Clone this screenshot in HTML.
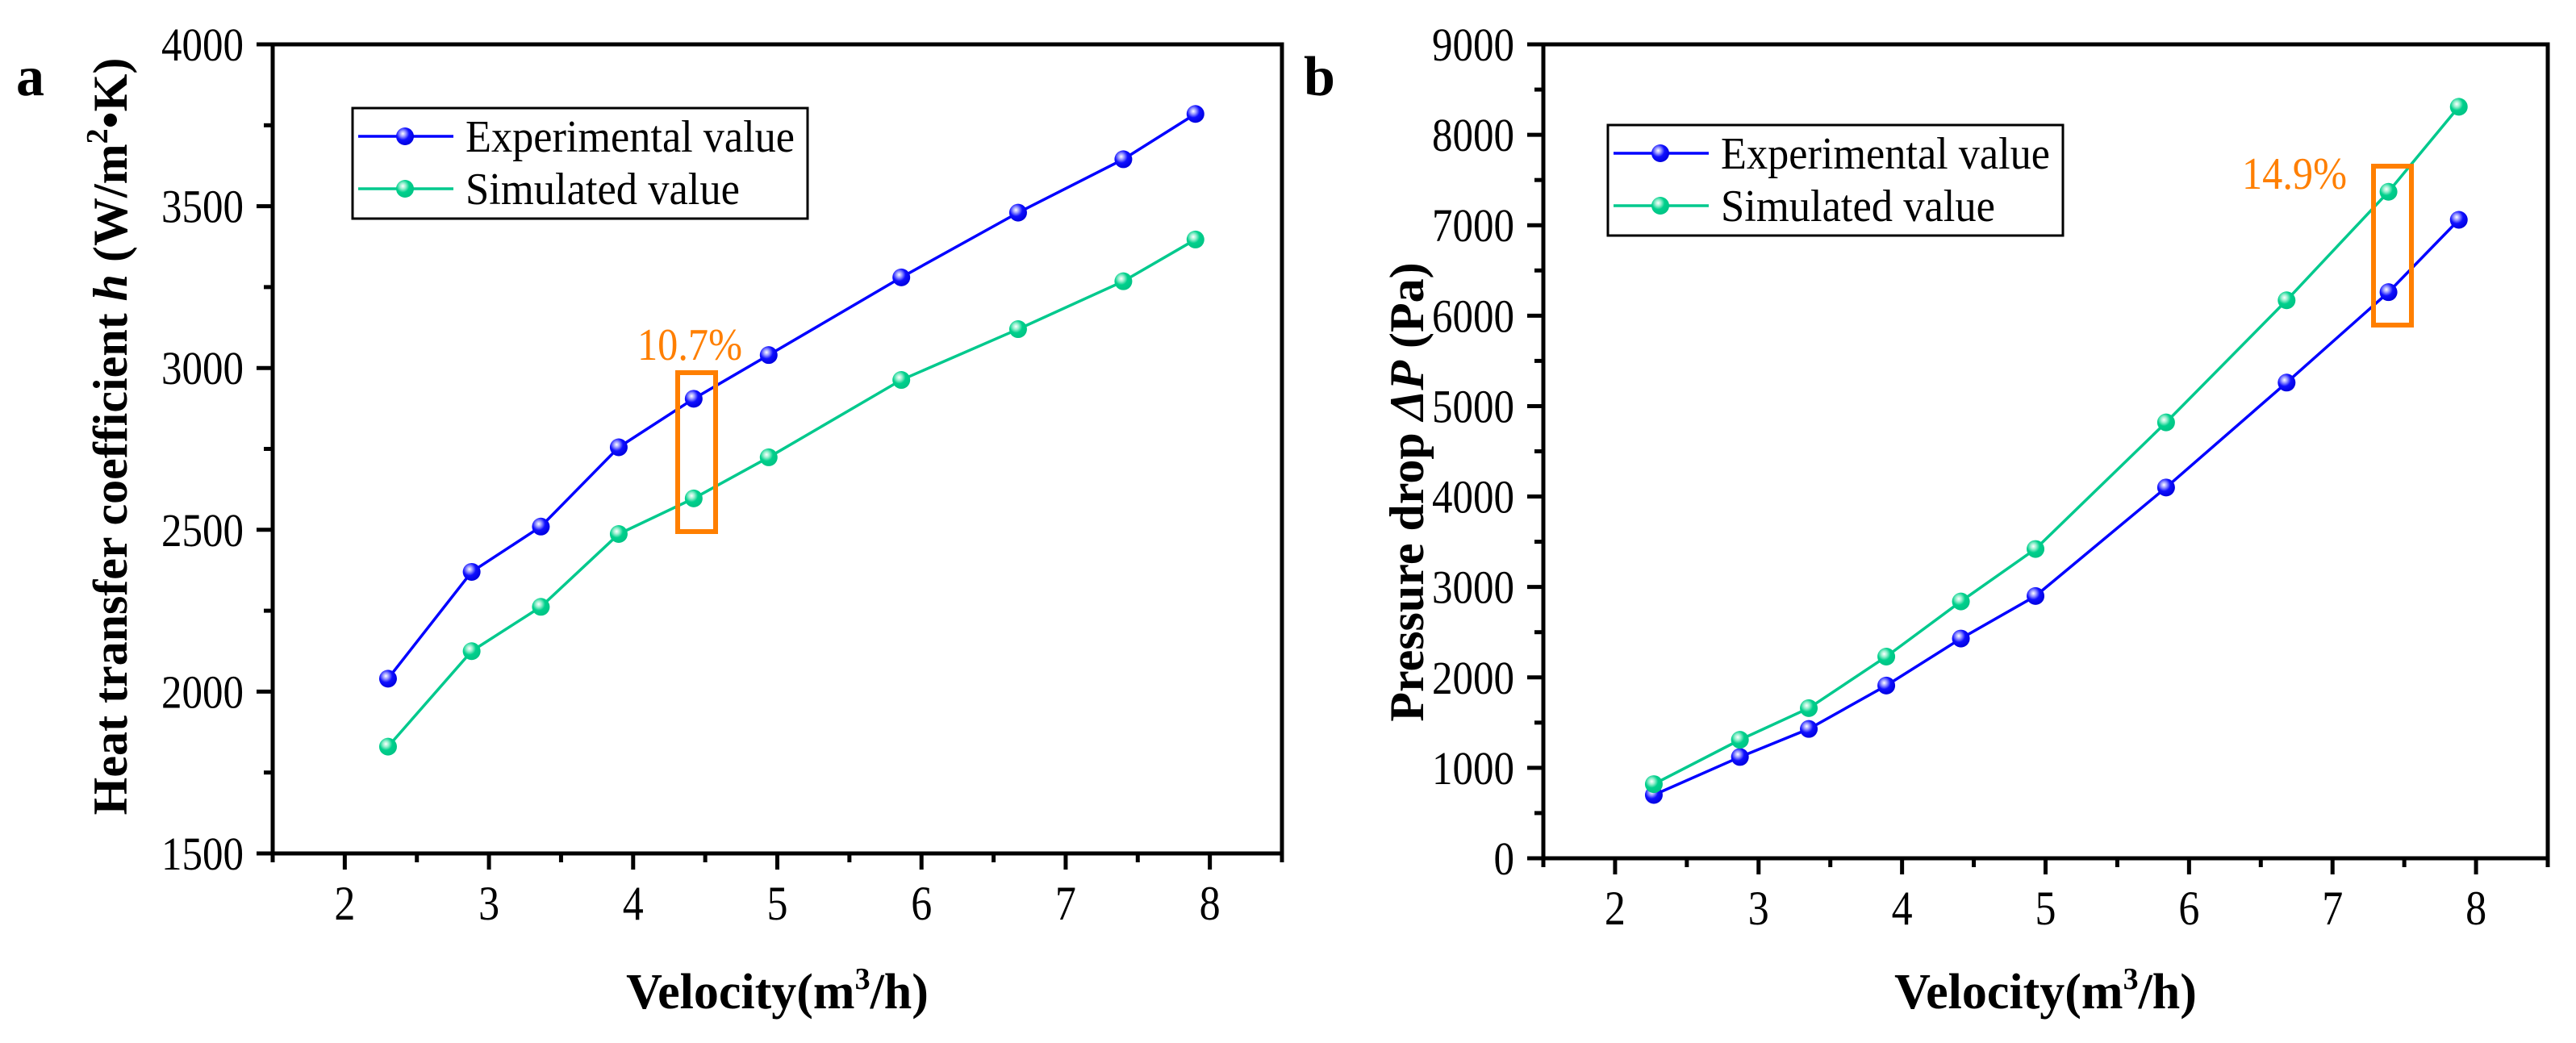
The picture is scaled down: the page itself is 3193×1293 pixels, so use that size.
<!DOCTYPE html>
<html><head><meta charset="utf-8"><style>
html,body{margin:0;padding:0;background:#fff;width:3193px;height:1293px;overflow:hidden}
svg{display:block;font-family:"Liberation Serif","DejaVu Serif",serif}
</style></head><body>
<svg id="chart" width="3193" height="1293" viewBox="0 0 3193 1293" xmlns="http://www.w3.org/2000/svg">
<defs>
<radialGradient id="gBlue" cx="0.38" cy="0.35" r="0.65">
<stop offset="0" stop-color="#ffffff"/><stop offset="0.25" stop-color="#9a9aff"/><stop offset="0.55" stop-color="#1010ff"/><stop offset="1" stop-color="#0000e0"/>
</radialGradient>
<radialGradient id="gGreen" cx="0.38" cy="0.35" r="0.65">
<stop offset="0" stop-color="#ffffff"/><stop offset="0.25" stop-color="#9af0d0"/><stop offset="0.55" stop-color="#00d08c"/><stop offset="1" stop-color="#00c485"/>
</radialGradient>
</defs>
</svg>
<script>
// Panel a data
const xA = [2.3, 2.88, 3.36, 3.9, 4.42, 4.94, 5.86, 6.67, 7.4, 7.9];
const expA = [2040, 2370, 2510, 2755, 2905, 3040, 3280, 3480, 3645, 3785];
const simA = [1830, 2125, 2262, 2487, 2597, 2724, 2963, 3120, 3268, 3397];
const yTicksA = [1500, 2000, 2500, 3000, 3500, 4000];
// Panel b data
const xB = [2.27, 2.87, 3.35, 3.89, 4.41, 4.93, 5.84, 6.68, 7.39, 7.88];
const expB = [700, 1120, 1430, 1910, 2430, 2900, 4100, 5260, 6260, 7060];
const simB = [820, 1310, 1660, 2230, 2840, 3420, 4820, 6170, 7370, 8310];
const yTicksB = [0, 1000, 2000, 3000, 4000, 5000, 6000, 7000, 8000, 9000];
const xTicks = [2, 3, 4, 5, 6, 7, 8];

const NS = "http://www.w3.org/2000/svg";
const svg = document.getElementById('chart');
function mk(tag, attrs, parent, text){
  const e = document.createElementNS(NS, tag);
  for (const k in attrs) e.setAttribute(k, attrs[k]);
  if (text !== undefined) e.textContent = text;
  (parent || svg).appendChild(e);
  return e;
}

function panel(cfg){
  const g = mk('g', {});
  
  
  const L = cfg.left, R = cfg.right, T = 55, B = cfg.bottom;
  const xs = v => L + (v - 1.5) / 7 * (R - L);
  const ys = v => B - (v - cfg.ymin) / (cfg.ymax - cfg.ymin) * (B - T);
  const fr = mk('rect', {x:L, y:T, width:R-L, height:B-T, fill:'none', stroke:'#000', 'stroke-width':5}, g);
  
  
  for (let v = 1.5; v <= 8.51; v += 0.5){
    const major = Math.abs(v - Math.round(v)) < 1e-6;
    mk('line', {x1:xs(v), x2:xs(v), y1:B, y2:B + (major ? 20 : 11), stroke:'#000', 'stroke-width':5}, g);
  }
  xTicks.forEach(v => {
    const s = String(v);
    const t = mk('text', {x:xs(v), y:B+82, 'font-size':60, 'text-anchor':'middle', textLength:s.length*26, lengthAdjust:'spacingAndGlyphs'}, g, s);
    
    
  });
  const step = cfg.yTicks[1] - cfg.yTicks[0];
  for (let v = cfg.ymin; v <= cfg.ymax + 1e-6; v += step/2){
    const major = cfg.yTicks.some(t => Math.abs(t - v) < 1e-6);
    mk('line', {x1:L - (major ? 20 : 11), x2:L, y1:ys(v), y2:ys(v), stroke:'#000', 'stroke-width':5}, g);
  }
  cfg.yTicks.forEach(v => {
    const s = String(v);
    const t = mk('text', {x:L-36, y:ys(v)+20, 'font-size':58, 'text-anchor':'end', textLength:s.length*25.5, lengthAdjust:'spacingAndGlyphs'}, g, s);
    
    
  });
  function series(xv, yv, color, grad, nm){
    const sg = mk('g', {}, g);
    
    
    const pts = xv.map((x,i) => xs(x) + ',' + ys(yv[i])).join(' ');
    mk('polyline', {points:pts, fill:'none', stroke:color, 'stroke-width':3.5}, sg);
    xv.forEach((x,i) => {
      const c = mk('circle', {cx:xs(x), cy:ys(yv[i]), r:11, fill:'url(#'+grad+')'}, sg);
      
      
    });
  }
  series(cfg.x, cfg.exp, '#0000ff', 'gBlue', 'experimental-series');
  series(cfg.x, cfg.sim, '#00c98d', 'gGreen', 'simulated-series');
  const lg = mk('g', {}, g);
  
  
  const lx = cfg.legX, ly = cfg.legY;
  mk('rect', {x:lx, y:ly, width:564, height:137, fill:'#fff', stroke:'#000', 'stroke-width':3}, lg);
  [['Experimental value','#0000ff','gBlue',35,408],['Simulated value','#00c98d','gGreen',100,340]].forEach(r => {
    const e = mk('g', {}, lg);
    
    
    mk('line', {x1:lx+7, x2:lx+125, y1:ly+r[3], y2:ly+r[3], stroke:r[1], 'stroke-width':3.5}, e);
    mk('circle', {cx:lx+65, cy:ly+r[3], r:11, fill:'url(#'+r[2]+')'}, e);
    mk('text', {x:lx+140, y:ly+r[3]+19, 'font-size':56, textLength:r[4], lengthAdjust:'spacingAndGlyphs'}, e, r[0]);
  });
  const hb = mk('rect', {x:cfg.boxX, y:cfg.boxY, width:47, height:197, fill:'none', stroke:'#ff7f00', 'stroke-width':6}, g);
  
  
  const ht = mk('text', {x:cfg.lblX, y:cfg.lblY, 'font-size':56, fill:'#ff7f00', textLength:130, lengthAdjust:'spacingAndGlyphs'}, g, cfg.lbl);
  
  
  const xt = mk('text', {x:(L+R)/2, y:1250, 'font-size':62, 'font-weight':'bold', 'text-anchor':'middle'}, g);
  
  
  xt.appendChild(document.createTextNode('Velocity(m'));
  mk('tspan', {'font-size':38, dy:-24}, xt, '3');
  mk('tspan', {dy:24}, xt, '/h)');
  const yt = mk('text', {x:0, y:0, 'font-size':60, 'font-weight':'bold', 'text-anchor':'middle',
    transform:'translate('+cfg.ytX+','+cfg.ytY+') rotate(-90)'}, g);
  
  
  cfg.ytitle(yt);
  const pl = mk('text', {x:cfg.plX, y:118, 'font-size':70, 'font-weight':'bold'}, g, cfg.pl);
  
  
}

panel({name:'panel-a', left:338, right:1589, bottom:1058, ymin:1500, ymax:4000, yTicks:yTicksA,
  x:xA, exp:expA, sim:simA, legX:437, legY:134, boxX:840, boxY:462, lblX:790, lblY:446, lbl:'10.7%',
  ytX:157, ytY:541, plX:20, pl:'a',
  ytitle: t => {
    t.appendChild(document.createTextNode('Heat transfer coefficient '));
    mk('tspan', {'font-style':'italic'}, t, 'h');
    t.appendChild(document.createTextNode(' (W/m'));
    mk('tspan', {'font-size':38, dy:-24}, t, '2');
    mk('tspan', {dy:24}, t, '•K)');
  }});
panel({name:'panel-b', left:1913, right:3158, bottom:1064, ymin:0, ymax:9000, yTicks:yTicksB,
  x:xB, exp:expB, sim:simB, legX:1993, legY:155, boxX:2942, boxY:206, lblX:2779, lblY:234, lbl:'14.9%',
  ytX:1764, ytY:610, plX:1616, pl:'b',
  ytitle: t => {
    t.appendChild(document.createTextNode('Pressure drop '));
    mk('tspan', {'font-style':'italic'}, t, 'ΔP');
    t.appendChild(document.createTextNode(' (Pa)'));
  }});
</script>
</body></html>
